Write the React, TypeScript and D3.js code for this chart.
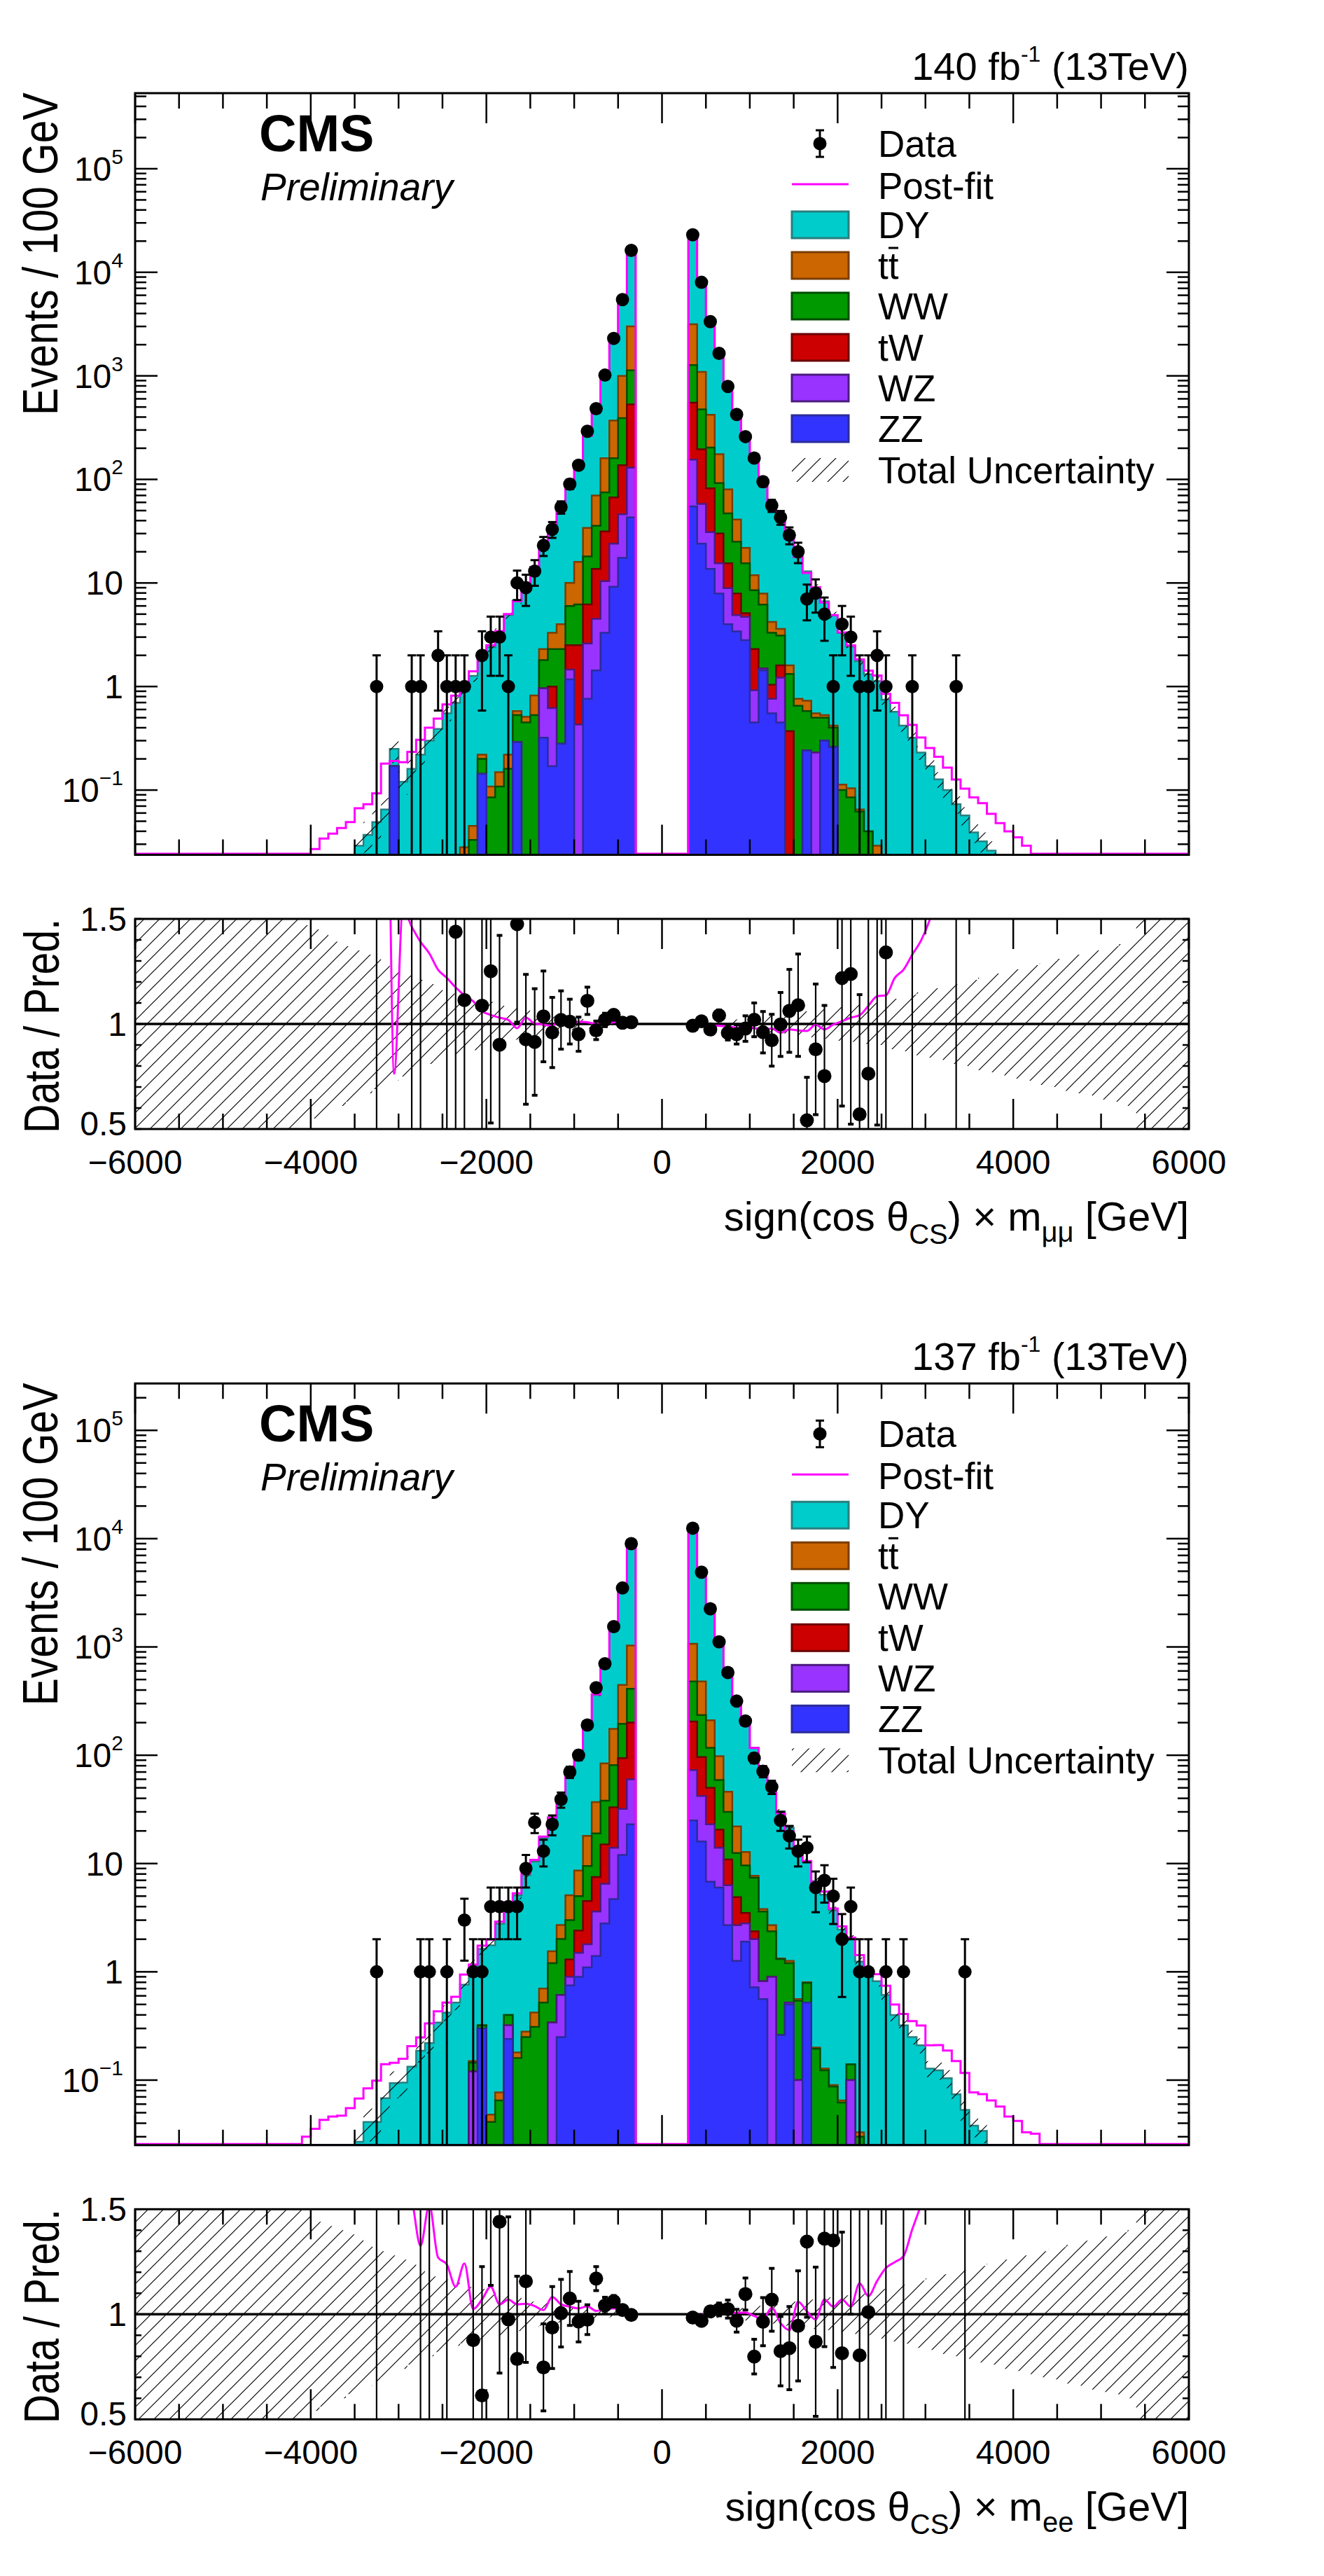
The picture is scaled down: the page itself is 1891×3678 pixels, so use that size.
import React from 'react';
import * as d3 from 'd3';

// Events per 100 GeV bin. Each list starts at the bin next to the
// |m| = 300 GeV cut and runs outwards (neg: -400..-300, -500..-400, ...; pos: 300..400, ...).

// ---- mumu, sign(cos) < 0 ----
const mmNegData = [16300, 5450, 2300, 1016, 482, 292, 137, 90, 54, 33, 23, 13, 9, 10, 1, 3, 3, 2, 0, 1, 1, 1, 2, 0, 1, 1, 0, 0, 0, 1];
const mmNegZZ = [43, 17.5, 9.2, 3.3, 1.43, 0.76, 0, 1.17, 0.28, 0.17, 0.32, 0, 0, 0.29, 0, 0, 0, 0.143, 0, 0, 0, 0, 0, 0, 0, 0, 0, 0.17];
const mmNegWZ = [87, 28.5, 14.8, 7.1, 3.07, 1.84, 0.43, 0.29, 0, 0.45, 0.64];
const mmNegTW = [400, 91, 43, 21, 9.2, 3.6, 2.07, 1.04, 0, 0.38];
const mmNegWW = [600, 253, 93, 43.5, 21.9, 11.8, 3.7, 3.5, 2.02, 1.3, 0.84, 0.53, 0.45, 0.24, 0.16, 0.108, 0.085, 0.057, 0.033];
const mmNegTT = [1870, 610, 210, 85, 34.4, 16, 9.8, 4, 1.7, 1.0, 0.5, 0.29, 0.06, 0.05, 0.06, 0.041, 0.023, 0.02, 0.012, 0.028];
const mmNegDY = [13170, 4420, 1835, 837, 427, 229, 128, 79, 49, 31.1, 19.9, 13.4, 9.2, 6.2, 4.7, 3.18, 2.29, 1.62, 1.22, 0.87, 0.695, 0.55, 0.39, 0.3, 0.22, 0.16, 0.12, 0.08, 0.065, 0.049, 0.037, 0.029];
const mmNegPostFitRatio = [1.008, 1.01, 1.008, 0.999, 1.0, 1.008, 1.011, 0.989, 1.022, 0.991, 0.997, 1.002, 1.03, 0.98, 1.019, 1.03, 1.043, 1.061, 1.108, 1.136, 1.174, 1.219, 1.258, 1.336, 1.391, 1.463, 1.55, 0.763, 2.77, 1.9, 1.97, 2.3];
const mmNegPostFitTail = [0.049, 0.043, 0.038, 0.034, 0.027];
const mmNegUnc = [0.008, 0.01, 0.012, 0.015, 0.018, 0.022, 0.026, 0.03, 0.035, 0.04, 0.05, 0.055, 0.065, 0.075, 0.085, 0.095, 0.105, 0.115, 0.125, 0.135, 0.145, 0.16, 0.175, 0.19, 0.21, 0.23, 0.25, 0.27, 0.29, 0.31, 0.33, 0.35, 0.37, 0.39, 0.41, 0.43, 0.45, 0.47, 1, 1, 1, 1, 1, 1, 1, 1, 1, 1, 1, 1, 1, 1, 1, 1, 1, 1, 1];

// ---- mumu, sign(cos) > 0 ----
const mmPosData = [23000, 8000, 3340, 1650, 790, 424, 259, 161, 95, 56, 43, 29, 20, 7, 8, 5, 1, 4, 3, 1, 1, 2, 1, 0, 0, 1, 0, 0, 0, 0, 1];
const mmPosZZ = [55, 24, 13.7, 7.9, 4, 3.4, 2.8, 0.45, 1.43, 0.55, 0.45, 0, 0, 0.24, 0, 0.3, 0.26];
const mmPosWZ = [100, 34, 17.3, 7.6, 4.9, 1.5, 1.9, 0.47, 0.06, 0.21, 0.77, 0, 0, 0, 0.23];
const mmPosTW = [395, 137, 51, 14.5, 6.6, 3, 0.4, 1.38, 0, 0.28, 0.38, 0.37];
const mmPosWW = [720, 280, 121, 62, 31.5, 17.1, 10.4, 6.2, 4.7, 2.26, 1.5, 0.95, 0.65, 0.34, 0.27, 0.2, 0.14, 0.1, 0.085, 0.062, 0.04];
const mmPosTT = [1880, 615, 217, 83, 33, 16, 6.3, 3.4, 1.7, 0.9, 0.5, 0.28, 0.11, 0.15, 0.05, 0.03, 0.02, 0.013, 0.019, 0.003, 0, 0.029];
const mmPosDY = [20050, 6810, 3010, 1410, 745, 405, 243, 146, 91, 56.5, 39.5, 25.7, 17.6, 12.2, 8.55, 6.12, 4.48, 3.17, 2.32, 1.69, 1.27, 1.1, 0.746, 0.57, 0.42, 0.32, 0.23, 0.17, 0.127, 0.1, 0.073, 0.057, 0.039, 0.032, 0.026];
const mmPosPostFitRatio = [0.997, 1.0, 0.994, 0.991, 0.989, 0.983, 0.986, 0.98, 0.974, 0.978, 0.958, 0.974, 0.969, 0.967, 0.997, 0.974, 0.997, 1.013, 1.03, 1.041, 1.086, 1.132, 1.136, 1.219, 1.258, 1.33, 1.397, 1.497, 1.65, 1.65, 1.73, 1.81, 2.18, 2.34, 2.27];
const mmPosPostFitTail = [0.048, 0.04, 0.035, 0.029];
const mmPosUnc = [0.008, 0.01, 0.012, 0.015, 0.018, 0.022, 0.026, 0.03, 0.035, 0.04, 0.045, 0.05, 0.055, 0.06, 0.065, 0.07, 0.075, 0.08, 0.085, 0.09, 0.095, 0.1, 0.11, 0.12, 0.13, 0.14, 0.15, 0.16, 0.17, 0.18, 0.19, 0.2, 0.21, 0.22, 0.23, 0.24, 0.25, 0.26, 0.27, 0.28, 0.29, 0.3, 0.31, 0.32, 0.33, 0.34, 0.35, 0.36, 0.37, 0.38, 0.39, 1, 1, 1, 1, 1, 1];

// ---- ee, sign(cos) < 0 ----
const eeNegData = [9000, 3500, 1540, 700, 420, 190, 100, 70, 39, 23, 13, 24, 9, 4, 4, 4, 4, 1, 1, 3, 0, 1, 0, 1, 1, 0, 0, 0, 0, 1];
const eeNegZZ = [23, 12, 4.7, 2.8, 1.4, 1.1, 0.9, 0.75, 0.25, 0, 0, 0, 0, 0, 0.24, 0, 0, 0.3];
const eeNegWZ = [37, 20, 9.3, 3.7, 2.2, 0.7, 0.6, 0.15, 0.36, 0.34, 0, 0, 0, 0, 0.08, 0, 0, 0, 0.12];
const eeNegTW = [140, 62, 19, 8.5, 3.9, 2.7, 0.9, 0.4];
const eeNegWW = [210, 101, 48, 23, 11.5, 5, 2.6, 1.7, 1.4, 0.86, 0.52, 0.31, 0.25, 0.16, 0.08, 0.065, 0.041, 0.02, 0.025];
const eeNegTT = [620, 250, 94, 46, 18, 8.5, 3.6, 2.1, 0.7, 0.35, 0.18, 0.11, 0.03, 0.02, 0, 0.012, 0.007, 0, 0.005];
const eeNegDY = [8000, 2985, 1275, 588, 322, 177, 95, 60, 36.1, 23, 16.7, 10, 7.5, 4.9, 3.7, 2.7, 1.71, 1.31, 0.99, 0.76, 0.52, 0.42, 0.34, 0.22, 0.187, 0.133, 0.095, 0.094, 0.068, 0.041, 0.041, 0.027];
const eeNegPostFitRatio = [1.005, 1.025, 1.028, 1.025, 1.016, 1.038, 1.028, 1.036, 1.047, 1.083, 1.02, 1.039, 1.05, 1.047, 1.07, 1.047, 1.131, 1.07, 1.025, 1.242, 1.131, 1.237, 1.27, 1.52, 1.326, 1.55, 1.66, 1.54, 2.06, 2.41, 2.05, 2.5];
const eeNegPostFitTail = [0.055, 0.047, 0.046, 0.043, 0.0355, 0.03];
const eeNegUnc = [0.008, 0.012, 0.014, 0.017, 0.02, 0.025, 0.03, 0.034, 0.04, 0.046, 0.055, 0.06, 0.07, 0.08, 0.09, 0.1, 0.11, 0.12, 0.13, 0.14, 0.15, 0.165, 0.18, 0.2, 0.22, 0.24, 0.26, 0.28, 0.3, 0.32, 0.34, 0.36, 0.38, 0.4, 0.42, 0.44, 0.46, 0.48, 1, 1, 1, 1, 1, 1, 1, 1, 1, 1, 1, 1, 1, 1, 1, 1, 1, 1, 1];

// ---- ee, sign(cos) > 0 ----
const eePosData = [12500, 4900, 2250, 1115, 580, 316, 207, 94, 71, 51, 25, 18, 13, 14, 6, 7, 5, 2, 4, 1, 1, 0, 1, 0, 1, 0, 0, 0, 0, 0, 0, 1];
const eePosZZ = [25, 16, 6.8, 6, 2.7, 1.26, 1.9, 0.72, 0.56, 0, 0.26, 0.5, 0, 0.52];
const eePosWZ = [48, 26, 16.2, 8, 3.6, 1.44, 0.9, 1.28, 0.26, 0.9, 0, 0.02, 0.1, 0, 0, 0, 0, 0, 0.1];
const eePosTW = [132, 54, 27, 6.5, 4.6, 2.2, 0.7, 0.37];
const eePosWW = [275, 139, 67, 38.5, 19.1, 7.6, 6.1, 5.03, 2.78, 1.47, 1.05, 0.68, 0.44, 0.27, 0.195, 0.123, 0.087, 0.062, 0.04, 0.03];
const eePosTT = [590, 245, 93, 39, 16, 9.5, 3.2, 0.3, 0.2, 0.33, 0.02, 0.06, 0.02, 0.01, 0.005, 0.005, 0.003, 0.003, 0, 0.003];
const eePosDY = [11630, 4580, 2010, 992, 520, 304, 176, 110, 69.8, 45, 29, 20.2, 13.2, 9.6, 6.7, 5.02, 3.61, 2.39, 1.86, 1.21, 0.99, 0.82, 0.61, 0.4, 0.32, 0.25, 0.21, 0.128, 0.123, 0.104, 0.074, 0.053, 0.038, 0.034];
const eePosPostFitRatio = [0.983, 0.997, 1.0, 1.005, 1.003, 1.008, 1.008, 0.992, 0.975, 1.031, 0.958, 0.925, 1.059, 1.014, 0.975, 1.07, 1.036, 1.07, 1.036, 1.148, 1.086, 1.159, 1.22, 1.248, 1.276, 1.404, 1.52, 1.64, 1.71, 1.8, 2.03, 2.2, 2.03, 2.18];
const eePosPostFitTail = [0.065, 0.057, 0.046, 0.042, 0.033, 0.032];
const eePosUnc = [0.008, 0.012, 0.014, 0.017, 0.02, 0.025, 0.03, 0.034, 0.04, 0.045, 0.05, 0.055, 0.06, 0.065, 0.07, 0.075, 0.08, 0.085, 0.09, 0.095, 0.1, 0.11, 0.12, 0.13, 0.14, 0.15, 0.16, 0.17, 0.18, 0.19, 0.2, 0.21, 0.22, 0.23, 0.24, 0.25, 0.26, 0.27, 0.28, 0.29, 0.3, 0.31, 0.32, 0.33, 0.34, 0.35, 0.36, 0.37, 0.38, 0.39, 0.4, 1, 1, 1, 1, 1, 1];

const xTickLabels = [-6000, -4000, -2000, 0, 2000, 4000, 6000];
const ratioTickLabels = ['0.5', '1', '1.5'];

const W = 1891, H = 3678;
const X0 = 193, X1 = 1698;
const X_MIN = -6000, X_MAX = 6000, BIN = 100, NB = 120;
const FONT = "'Liberation Sans', Arial, Helvetica, sans-serif";

const KEYS = ['zz', 'wz', 'tw', 'ww', 'tt', 'dy'] as const;
const PROCS = [
  { key: 'zz', label: 'ZZ', fill: '#3333ff', line: '#2b2b9c' },
  { key: 'wz', label: 'WZ', fill: '#9933ff', line: '#4c1a80' },
  { key: 'tw', label: 'tW', fill: '#cc0000', line: '#6b0000' },
  { key: 'ww', label: 'WW', fill: '#009900', line: '#004d00' },
  { key: 'tt', label: 'tt', fill: '#cc6600', line: '#7a3d00' },
  { key: 'dy', label: 'DY', fill: '#00cccc', line: '#2a7f7f' },
];

type Side = {
  data: number[]; zz: number[]; wz: number[]; tw: number[]; ww: number[]; tt: number[]; dy: number[];
  pfRatio: number[]; pfTail: number[]; unc: number[];
};
type Chan = { lumi: string; lep: string; offset: number; yMin: number; yMax: number; neg: Side; pos: Side };

const MUMU: Chan = {
  lumi: '140', lep: 'μμ', offset: 0, yMin: 0.0237, yMax: 5.37e5,
  neg: { data: mmNegData, zz: mmNegZZ, wz: mmNegWZ, tw: mmNegTW, ww: mmNegWW, tt: mmNegTT, dy: mmNegDY, pfRatio: mmNegPostFitRatio, pfTail: mmNegPostFitTail, unc: mmNegUnc },
  pos: { data: mmPosData, zz: mmPosZZ, wz: mmPosWZ, tw: mmPosTW, ww: mmPosWW, tt: mmPosTT, dy: mmPosDY, pfRatio: mmPosPostFitRatio, pfTail: mmPosPostFitTail, unc: mmPosUnc },
};
const EE: Chan = {
  lumi: '137', lep: 'ee', offset: 1842.3, yMin: 0.0251, yMax: 2.71e5,
  neg: { data: eeNegData, zz: eeNegZZ, wz: eeNegWZ, tw: eeNegTW, ww: eeNegWW, tt: eeNegTT, dy: eeNegDY, pfRatio: eeNegPostFitRatio, pfTail: eeNegPostFitTail, unc: eeNegUnc },
  pos: { data: eePosData, zz: eePosZZ, wz: eePosWZ, tw: eePosTW, ww: eePosWW, tt: eePosTT, dy: eePosDY, pfRatio: eePosPostFitRatio, pfTail: eePosPostFitTail, unc: eePosUnc },
};

const binLo = (b: number) => X_MIN + BIN * b;

// map the two center-outward lists onto the 120 bins from -6000 to 6000
function full(neg: number[], pos: number[]): number[] {
  return d3.range(NB).map(b => {
    if (b <= 56) return neg[56 - b] ?? 0;
    if (b >= 63) return pos[b - 63] ?? 0;
    return 0;
  });
}

const sideTotal = (s: Side, k: number) => d3.sum(KEYS, key => s[key][k] ?? 0);

function postFit(s: Side): number[] {
  const n = s.pfRatio.length;
  return d3.range(n + s.pfTail.length).map(k => (k < n ? sideTotal(s, k) * s.pfRatio[k] : s.pfTail[k - n]));
}

function ChannelPlot({ ch, id }: { ch: Chan; id: string }) {
  const o = ch.offset;
  const T = 133 + o, B = 1220.5 + o, RT = 1312 + o, RB = 1612 + o;
  const x = d3.scaleLinear().domain([X_MIN, X_MAX]).range([X0, X1]);
  const y = d3.scaleLog().domain([ch.yMin, ch.yMax]).range([B, T]);
  const yr = d3.scaleLinear().domain([0.5, 1.5]).range([RB, RT]);

  const comps = KEYS.map(k => full(ch.neg[k], ch.pos[k]));
  const cum = comps.map((_, i) => d3.range(NB).map(b => d3.sum(comps.slice(0, i + 1), c => c[b])));
  const total = cum[cum.length - 1];
  const data = full(ch.neg.data, ch.pos.data);
  const unc = full(ch.neg.unc, ch.pos.unc);
  const post = full(postFit(ch.neg), postFit(ch.pos));

  const step = (vals: number[], floorY: number) => {
    let d = `M${x(X_MIN)},${floorY}`;
    vals.forEach((v, b) => {
      const yy = v > ch.yMin ? y(v) : floorY;
      d += `L${x(binLo(b))},${yy}L${x(binLo(b) + BIN)},${yy}`;
    });
    return d + `L${x(X_MAX)},${floorY}`;
  };

  let band = '';
  total.forEach((t, b) => {
    if (t <= ch.yMin || unc[b] <= 0) return;
    const hi = y(Math.min(t * (1 + unc[b]), ch.yMax));
    const lo = t * (1 - unc[b]) > ch.yMin ? y(t * (1 - unc[b])) : B;
    band += `M${x(binLo(b))},${hi}H${x(binLo(b) + BIN)}V${lo}H${x(binLo(b))}Z`;
  });

  let rband = '';
  unc.forEach((u, b) => {
    if (u <= 0) return;
    const hi = yr(Math.min(1.5, 1 + u)), lo = yr(Math.max(0.5, 1 - u));
    rband += `M${x(binLo(b))},${hi}H${x(binLo(b) + BIN)}V${lo}H${x(binLo(b))}Z`;
  });

  const curve = d3.line<[number, number]>().x(d => x(d[0])).y(d => yr(d[1])).curve(d3.curveMonotoneX);
  const negCurve = ch.neg.pfRatio.map((r, k) => [-350 - BIN * k, r] as [number, number]).reverse();
  const posCurve = ch.pos.pfRatio.map((r, j) => [350 + BIN * j, r] as [number, number]);

  const xTicks = d3.range(X_MIN, X_MAX + 1, 500);
  const logTicks: { v: number; major: boolean }[] = [];
  for (let e = -2; e <= 6; e++) {
    for (let m = 1; m <= 9; m++) {
      const v = m * Math.pow(10, e);
      if (v >= ch.yMin && v <= ch.yMax) logTicks.push({ v, major: m === 1 });
    }
  }
  const ratioTicks = d3.range(5, 16).map(i => i / 10);
  const decades = [-1, 0, 1, 2, 3, 4, 5];

  const legendRows = [205, 263, 321, 379, 437, 496, 554, 612, 671].map(v => v + o);
  const legendProcs = [...PROCS].reverse();
  const LX = 1131, LW = 81, TX = 1254;

  return (
    <g>
      <defs>
        <clipPath id={`top${id}`}><rect x={X0} y={T} width={X1 - X0} height={B - T} /></clipPath>
        <clipPath id={`rat${id}`}><rect x={X0} y={RT} width={X1 - X0} height={RB - RT} /></clipPath>
      </defs>

      {/* ---------- main panel ---------- */}
      <g clipPath={`url(#top${id})`}>
        {d3.range(cum.length - 1, -1, -1).map(i => (
          <path key={i} d={step(cum[i], B) + 'Z'} fill={PROCS[i].fill} stroke={PROCS[i].line} strokeWidth={2.5} />
        ))}
        <path d={band} fill="url(#hatch)" />
        <path d={step(post, B - 1.5)} fill="none" stroke="#ff00ff" strokeWidth={3} />
        {data.map((n, b) => {
          if (n <= 0) return null;
          const cx = x(binLo(b) + BIN / 2), e = Math.sqrt(n);
          const yTop = y(n + e);
          const hasLow = n - e > ch.yMin;
          const yBot = hasLow ? y(n - e) : B;
          return (
            <g key={b} stroke="#000" strokeWidth={3}>
              <line x1={cx} x2={cx} y1={yTop} y2={yBot} />
              <line x1={cx - 6} x2={cx + 6} y1={yTop} y2={yTop} />
              {hasLow && <line x1={cx - 6} x2={cx + 6} y1={yBot} y2={yBot} />}
              <circle cx={cx} cy={y(n)} r={9.5} fill="#000" stroke="none" />
            </g>
          );
        })}
      </g>
      <rect x={X0} y={T} width={X1 - X0} height={B - T} fill="none" stroke="#000" strokeWidth={3} />
      <g stroke="#000" strokeWidth={2.5}>
        {xTicks.map(v => {
          const len = v % 2000 === 0 ? 43 : 22;
          return (
            <g key={v}>
              <line x1={x(v)} x2={x(v)} y1={B} y2={B - len} />
              <line x1={x(v)} x2={x(v)} y1={T} y2={T + len} />
            </g>
          );
        })}
        {logTicks.map(t => {
          const len = t.major ? 32 : 16;
          return (
            <g key={t.v}>
              <line x1={X0} x2={X0 + len} y1={y(t.v)} y2={y(t.v)} />
              <line x1={X1} x2={X1 - len} y1={y(t.v)} y2={y(t.v)} />
            </g>
          );
        })}
      </g>
      <g fontSize={48} textAnchor="end">
        {decades.map(e => (
          <text key={e} x={176} y={y(Math.pow(10, e)) + 17}>
            {e === 0 ? '1' : e === 1 ? '10' : <>10<tspan fontSize={30} dy={-24}>{e < 0 ? '−' + -e : e}</tspan></>}
          </text>
        ))}
      </g>
      {/* rotated titles start at the lower end and read upwards */}
      <text transform={`translate(82,${T + 460}) rotate(-90) scale(0.84,1)`} fontSize={70}>
        Events / 100 GeV
      </text>
      <text x={X1} y={114 + o} textAnchor="end" fontSize={56}>
        {ch.lumi} fb<tspan fontSize={32} dy={-26}>-1</tspan><tspan dy={26}> (13TeV)</tspan>
      </text>
      <text x={370} y={216 + o} fontSize={74} fontWeight="bold">CMS</text>
      <text x={372} y={286 + o} fontSize={55} fontStyle="italic">Preliminary</text>

      {/* legend */}
      <g fontSize={53}>
        <line x1={1171} x2={1171} y1={legendRows[0] - 19} y2={legendRows[0] + 19} stroke="#000" strokeWidth={3} />
        <line x1={1165} x2={1177} y1={legendRows[0] - 19} y2={legendRows[0] - 19} stroke="#000" strokeWidth={3} />
        <line x1={1165} x2={1177} y1={legendRows[0] + 19} y2={legendRows[0] + 19} stroke="#000" strokeWidth={3} />
        <circle cx={1171} cy={legendRows[0]} r={9.5} fill="#000" />
        <text x={TX} y={legendRows[0] + 19}>Data</text>
        <line x1={LX} x2={LX + LW} y1={legendRows[1]} y2={legendRows[1]} stroke="#ff00ff" strokeWidth={3} />
        <text x={TX} y={legendRows[1] + 21}>Post-fit</text>
        {legendProcs.map((p, i) => {
          const cy = legendRows[i + 2];
          return (
            <g key={p.key}>
              <rect x={LX} y={cy - 19} width={LW} height={38} fill={p.fill} stroke={p.line} strokeWidth={3} />
              <text x={TX} y={cy + 19}>{p.label}</text>
              {p.key === 'tt' && <line x1={TX + 15} x2={TX + 29} y1={cy - 25} y2={cy - 25} stroke="#000" strokeWidth={3} />}
            </g>
          );
        })}
        <rect x={LX} y={legendRows[8] - 17} width={LW} height={34} fill="url(#hatch)" />
        <text x={TX} y={legendRows[8] + 19}>Total Uncertainty</text>
      </g>

      {/* ---------- ratio panel ---------- */}
      <g clipPath={`url(#rat${id})`}>
        <path d={rband} fill="url(#hatch)" />
        <line x1={X0} x2={X1} y1={yr(1)} y2={yr(1)} stroke="#000" strokeWidth={3.5} />
        <path d={curve(negCurve) ?? ''} fill="none" stroke="#ff00ff" strokeWidth={3} />
        <path d={curve(posCurve) ?? ''} fill="none" stroke="#ff00ff" strokeWidth={3} />
        {data.map((n, b) => {
          const t = total[b];
          if (n <= 0 || t <= 0) return null;
          const r = n / t, e = r / Math.sqrt(n);
          if (r + e < 0.5 || r - e > 1.5) return null;
          const cx = x(binLo(b) + BIN / 2);
          const y1 = yr(Math.min(r + e, 1.55)), y2 = yr(Math.max(r - e, 0.45));
          return (
            <g key={b} stroke="#000" strokeWidth={2.2}>
              <line x1={cx} x2={cx} y1={y1} y2={y2} />
              {r + e <= 1.5 && <line x1={cx - 4} x2={cx + 4} y1={y1} y2={y1} strokeWidth={4} />}
              {r - e >= 0.5 && <line x1={cx - 4} x2={cx + 4} y1={y2} y2={y2} strokeWidth={4} />}
              {r >= 0.5 && r <= 1.5 && <circle cx={cx} cy={yr(r)} r={10} fill="#000" stroke="none" />}
            </g>
          );
        })}
      </g>
      <rect x={X0} y={RT} width={X1 - X0} height={RB - RT} fill="none" stroke="#000" strokeWidth={3} />
      <g stroke="#000" strokeWidth={2.5}>
        {xTicks.map(v => {
          const len = v % 2000 === 0 ? 43 : 22;
          return (
            <g key={v}>
              <line x1={x(v)} x2={x(v)} y1={RB} y2={RB - len} />
              <line x1={x(v)} x2={x(v)} y1={RT} y2={RT + len} />
            </g>
          );
        })}
        {ratioTicks.map(v => (
          <g key={v}>
            <line x1={X0} x2={X0 + 9} y1={yr(v)} y2={yr(v)} />
            <line x1={X1} x2={X1 - 9} y1={yr(v)} y2={yr(v)} />
          </g>
        ))}
      </g>
      <g fontSize={48}>
        {xTickLabels.map(v => (
          <text key={v} x={x(v)} y={RB + 64} textAnchor="middle">{v < 0 ? '−' + -v : String(v)}</text>
        ))}
        {ratioTickLabels.map(s => (
          <text key={s} x={181} y={yr(+s) + (s === '0.5' ? 9 : 17)} textAnchor="end">{s}</text>
        ))}
      </g>
      <text transform={`translate(84,${RT + 306}) rotate(-90) scale(0.82,1)`} fontSize={70}>
        Data / Pred.
      </text>
      <text x={X1} y={RB + 145} textAnchor="end" fontSize={58}>
        sign(cos θ<tspan fontSize={40} dy={19}>CS</tspan><tspan dy={-19}>) × m</tspan><tspan fontSize={40} dy={16}>{ch.lep}</tspan><tspan dy={-16}> [GeV]</tspan>
      </text>
    </g>
  );
}

export default function App() {
  return (
    <svg width={W} height={H} viewBox={`0 0 ${W} ${H}`} fontFamily={FONT} style={{ position: 'absolute', left: 0, top: 0, background: '#fff' }}>
      <defs>
        <pattern id="hatch" patternUnits="userSpaceOnUse" width={22} height={22}>
          <path d="M0,22L22,0M-5.5,5.5L5.5,-5.5M16.5,27.5L27.5,16.5" stroke="#000" strokeWidth={1.2} />
        </pattern>
      </defs>
      <rect width={W} height={H} fill="#fff" />
      <ChannelPlot ch={MUMU} id="mm" />
      <ChannelPlot ch={EE} id="ee" />
    </svg>
  );
}
